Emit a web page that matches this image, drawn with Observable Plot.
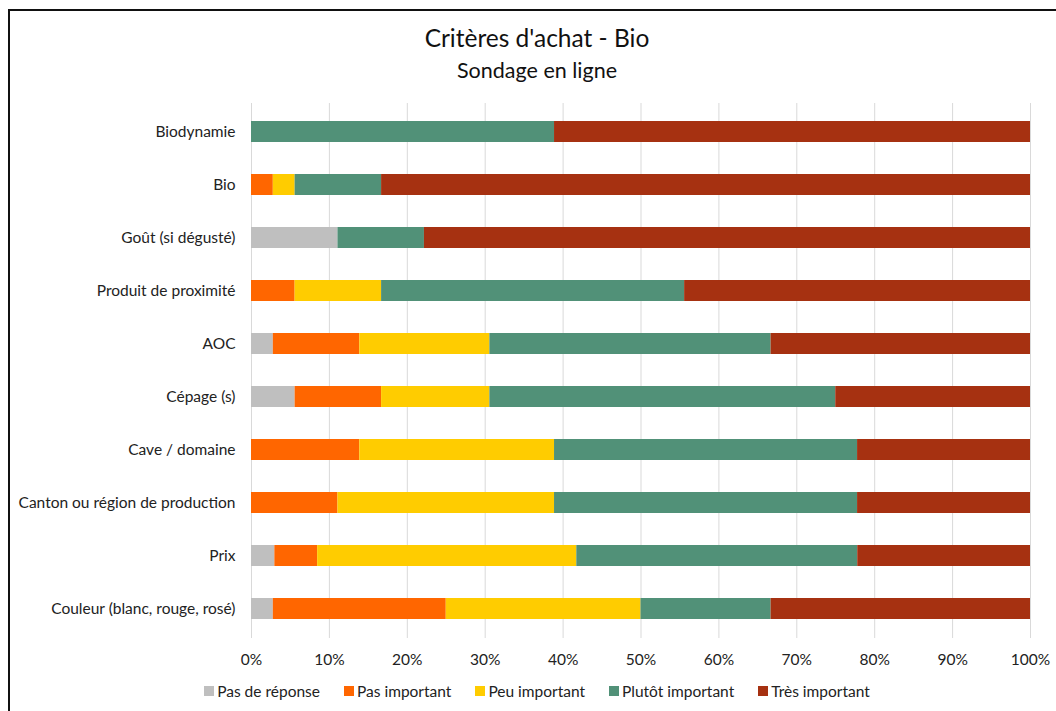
<!DOCTYPE html>
<html>
<head>
<meta charset="utf-8">
<script src="https://cdn.jsdelivr.net/npm/d3@7"></script>
<script src="https://cdn.jsdelivr.net/npm/@observablehq/plot@0.6"></script>
<style>
  html, body { margin: 0; padding: 0; background: #fff; overflow: hidden; width: 1056px; height: 711px; }
  body { font-family: Lato, "Open Sans", sans-serif; color: #222; position: relative; }
  #frame { position: absolute; left: 8px; top: 9px; width: 1100px; height: 800px; border-left: 2px solid #111; border-top: 2px solid #111; }
  #title { position: absolute; left: 8px; width: 1058px; top: 23px; text-align: center; font-size: 24.5px; line-height: 30px; color: #111; }
  #subtitle { position: absolute; left: 8px; width: 1058px; top: 57px; text-align: center; font-size: 21.5px; line-height: 26px; color: #111; }
  #chart { position: absolute; left: 0; top: 90px; }
  #legend { position: absolute; left: 8px; width: 1058px; top: 681px; display: flex; justify-content: center; gap: 24px; font-size: 15.5px; line-height: 20px; color: #222; }
  .item { display: flex; align-items: center; gap: 3px; }
  .sw { width: 10px; height: 10px; display: inline-block; }
</style>
</head>
<body>
<div id="frame"></div>
<div id="title">Critères d'achat - Bio</div>
<div id="subtitle">Sondage en ligne</div>
<div id="chart"></div>
<div id="legend"></div>
<script>
const categories = ["Biodynamie", "Bio", "Goût (si dégusté)", "Produit de proximité", "AOC", "Cépage (s)", "Cave / domaine", "Canton ou région de production", "Prix", "Couleur (blanc, rouge, rosé)"];
const seriesNames = ["Pas de réponse", "Pas important", "Peu important", "Plutôt important", "Très important"];
const seriesColors = ["#bfbfbf", "#ff6600", "#ffcc00", "#519178", "#a63111"];
const pasDeReponse    = [0, 0, 11.1, 0, 2.8, 5.6, 0, 0, 3.0, 2.8];
const pasImportant    = [0, 2.8, 0, 5.6, 11.1, 11.1, 13.9, 11.1, 5.5, 22.2];
const peuImportant    = [0, 2.8, 0, 11.1, 16.7, 13.9, 25.0, 27.8, 33.3, 25.0];
const plutotImportant = [38.9, 11.1, 11.1, 38.9, 36.1, 44.4, 38.9, 38.9, 36.1, 16.7];
const tresImportant   = [61.1, 83.3, 77.8, 44.4, 33.3, 25.0, 22.2, 22.2, 22.2, 33.3];
const xTicks = [0, 0.1, 0.2, 0.3, 0.4, 0.5, 0.6, 0.7, 0.8, 0.9, 1];

const seriesValues = [pasDeReponse, pasImportant, peuImportant, plutotImportant, tresImportant];
const data = [];
categories.forEach((c, i) => {
  seriesNames.forEach((s, j) => {
    data.push({category: c, series: s, value: seriesValues[j][i]});
  });
});

const chart = Plot.plot({
  width: 1056,
  height: 583,
  marginLeft: 251,
  marginRight: 26,
  marginTop: 13,
  marginBottom: 35,
  style: {fontFamily: "Lato, 'Open Sans', sans-serif", fontSize: "15.5px", color: "#222", background: "transparent"},
  x: {domain: [0, 1], ticks: xTicks, tickFormat: d3.format(".0%"), tickSize: 0, tickPadding: 15, label: null},
  y: {domain: categories, paddingInner: 0.6, paddingOuter: 0.3, tickSize: 0, tickPadding: 16, label: null},
  color: {domain: seriesNames, range: seriesColors},
  marks: [
    Plot.gridX(xTicks, {stroke: "#d9d9d9", strokeOpacity: 1, strokeWidth: 1}),
    Plot.barX(data, Plot.stackX({offset: "normalize", x: "value", y: "category", fill: "series", order: seriesNames}))
  ]
});
document.getElementById("chart").appendChild(chart);

const legend = document.getElementById("legend");
seriesNames.forEach((s, j) => {
  const item = document.createElement("div");
  item.className = "item";
  const sw = document.createElement("span");
  sw.className = "sw";
  sw.style.background = seriesColors[j];
  const t = document.createElement("span");
  t.textContent = s;
  item.appendChild(sw);
  item.appendChild(t);
  legend.appendChild(item);
});
</script>
</body>
</html>
